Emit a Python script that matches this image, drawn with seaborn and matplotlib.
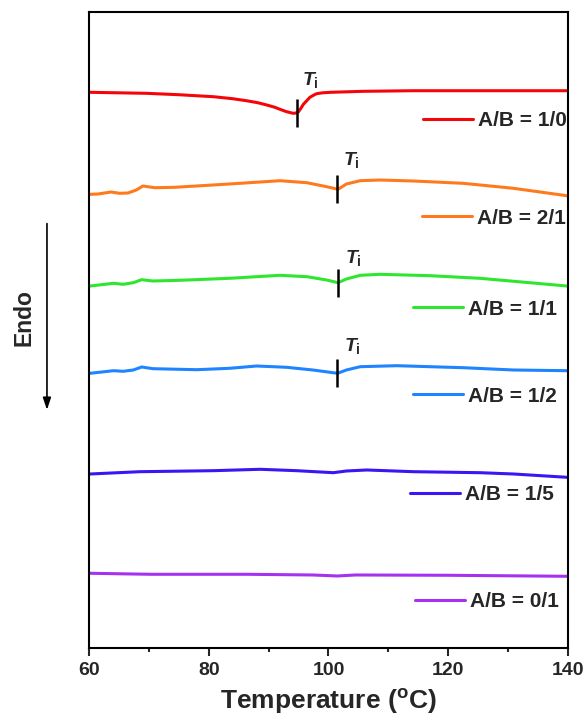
import numpy as np
import pandas as pd
import matplotlib
matplotlib.use("Agg")
import matplotlib.pyplot as plt
from matplotlib.legend import Legend
import seaborn as sns

# DSC heating traces (heat flow, arbitrary units, curves vertically offset)
ratios = ["A/B = 1/0", "A/B = 2/1", "A/B = 1/1", "A/B = 1/2", "A/B = 1/5", "A/B = 0/1"]

temp_10 = [60.2, 69.6, 75.0, 80.8, 84.0, 86.3, 88.2, 89.7, 91.0, 91.9, 93.0, 94.1, 94.6, 95.0, 95.4,
           95.8, 96.4, 96.9, 97.5, 98.0, 99.0, 100.3, 105.8, 114.2, 139.8]
flow_10 = [555.7, 554.7, 553.3, 551.3, 549.3, 547.3, 545.3, 543.0, 540.8, 538.7, 536.3, 534.7, 535.0,
           536.3, 539.8, 543.7, 547.5, 550.7, 552.8, 554.3, 555.2, 555.7, 556.7, 557.3, 557.3]

temp_21 = [60.2, 61.5, 63.7, 65.1, 66.5, 67.9, 69.0, 71.0, 74.3, 81.5, 85.2, 91.9, 96.4, 99.7, 101.6,
           103.0, 105.3, 108.6, 114.2, 122.5, 130.9, 139.8]
flow_21 = [453.7, 454.0, 456.0, 454.7, 455.0, 458.0, 462.0, 460.3, 460.7, 463.3, 464.7, 467.3, 465.3,
           461.3, 458.7, 464.0, 467.3, 468.0, 467.0, 464.7, 459.7, 452.3]

temp_11 = [60.2, 64.1, 65.7, 67.4, 68.8, 70.7, 75.2, 83.5, 91.9, 96.4, 99.7, 101.6, 103.0, 105.3,
           108.6, 117.0, 125.3, 133.6, 139.8]
flow_11 = [362.0, 364.7, 363.7, 365.3, 368.3, 367.0, 367.7, 369.7, 372.7, 371.3, 368.0, 365.3, 369.0,
           372.7, 373.7, 372.3, 369.7, 365.3, 362.0]

temp_12 = [60.2, 64.1, 65.7, 67.4, 68.8, 70.7, 78.0, 83.5, 88.0, 93.0, 97.4, 101.5, 103.0, 105.3,
           111.4, 122.5, 130.9, 139.8]
flow_12 = [274.7, 277.3, 276.7, 278.0, 281.0, 279.3, 278.3, 279.7, 282.0, 280.7, 278.0, 274.7, 278.0,
           281.3, 282.3, 280.3, 278.0, 277.3]

temp_15 = [60.2, 68.5, 80.7, 88.6, 94.7, 100.8, 103.0, 106.4, 114.2, 125.3, 130.9, 139.8]
flow_15 = [174.0, 176.3, 177.3, 178.7, 177.3, 175.3, 177.0, 178.0, 176.3, 175.3, 174.0, 170.7]

temp_01 = [60.2, 70.3, 86.3, 97.4, 101.5, 104.5, 120.0, 139.8]
flow_01 = [74.7, 73.7, 73.7, 73.0, 72.0, 73.0, 72.7, 71.7]

temps = [temp_10, temp_21, temp_11, temp_12, temp_15, temp_01]
flows = [flow_10, flow_21, flow_11, flow_12, flow_15, flow_01]

# transition temperatures T_i marked on the first four traces
ti_values = [94.7, 101.5, 101.6, 101.4]

# styling and placement
colors = ["#f5050a", "#ff7a1c", "#2fe62f", "#1f84ff", "#3d14f2", "#a532f0"]
legend_anchor = [(0.697, 0.829), (0.695, 0.676), (0.677, 0.533),
                 (0.677, 0.396), (0.670, 0.241), (0.681, 0.073)]
ti_label_pos = [(96.9, 568), (103.9, 488), (104.2, 390), (104.0, 302)]
ti_half = 14

sns.set_theme(style="ticks")
plt.rcParams["font.family"] = ["Liberation Sans", "DejaVu Sans"]
plt.rcParams["font.weight"] = "bold"
plt.rcParams["mathtext.fontset"] = "custom"
plt.rcParams["mathtext.rm"] = "Liberation Sans:bold"
plt.rcParams["mathtext.bf"] = "Liberation Sans:bold"
plt.rcParams["mathtext.it"] = "Liberation Sans:bold:italic"

fig = plt.figure(figsize=(5.87, 7.24), dpi=100)
ax = fig.add_axes([0.1516, 0.105, 0.816, 0.8784])

frames = []
for lab, t, f in zip(ratios, temps, flows):
    frames.append(pd.DataFrame({"Temperature": t, "Heat flow": f, "Sample": lab}))
df = pd.concat(frames, ignore_index=True)

sns.lineplot(data=df, x="Temperature", y="Heat flow", hue="Sample", hue_order=ratios,
             palette=colors, estimator=None, sort=False, linewidth=2.2, legend=False, ax=ax)

lines = ax.get_lines()
for line, lab, anchor in zip(lines, ratios, legend_anchor):
    leg = Legend(ax, [line], [lab], loc="center left", bbox_to_anchor=anchor,
                 bbox_transform=ax.transAxes, frameon=False, borderaxespad=0, borderpad=0,
                 handlelength=2.4, handletextpad=0.25,
                 prop={"family": "Liberation Sans", "weight": "bold", "size": 15})
    ax.add_artist(leg)

# T_i markers: short vertical bars centred on each trace
for ti, t, f, (lx, ly) in zip(ti_values, temps, flows, ti_label_pos):
    yc = np.interp(ti, t, f)
    ax.vlines(ti, yc - ti_half, yc + ti_half, color="black", linewidth=1.8, zorder=4)
    ax.text(lx, ly, r"$\mathit{T}_{\mathbf{i}}$", ha="center", va="center", fontsize=14)

ax.set_xlim(60, 140)
ax.set_ylim(0, 636)
ax.set_xticks([60, 80, 100, 120, 140])
ax.set_xticks([70, 90, 110, 130], minor=True)
ax.set_yticks([])
ax.tick_params(axis="x", which="major", direction="out", length=6, width=1.5,
               labelsize=14, pad=4, top=False)
ax.tick_params(axis="x", which="minor", direction="out", length=3, width=1.5, top=False)
for lbl in ax.get_xticklabels():
    lbl.set_fontweight("bold")
for side in ["left", "right", "top", "bottom"]:
    ax.spines[side].set_visible(True)
    ax.spines[side].set_linewidth(1.5)
    ax.spines[side].set_color("black")

ax.set_xlabel(r"Temperature ($\mathbf{^{o}}$C)", fontsize=19, fontweight="bold", labelpad=6)
ax.set_ylabel("")

# endothermic direction indicator
fig.text(0.041, 0.562, "Endo", rotation=90, ha="center", va="center",
         fontsize=16.5, fontweight="bold")
ax.annotate("", xy=(0.080, 0.430), xytext=(0.080, 0.695),
            xycoords="figure fraction", textcoords="figure fraction",
            arrowprops=dict(arrowstyle="-|>,head_length=0.6,head_width=0.2",
                            color="black", lw=1.2))

fig.savefig("out.png", dpi=100)
